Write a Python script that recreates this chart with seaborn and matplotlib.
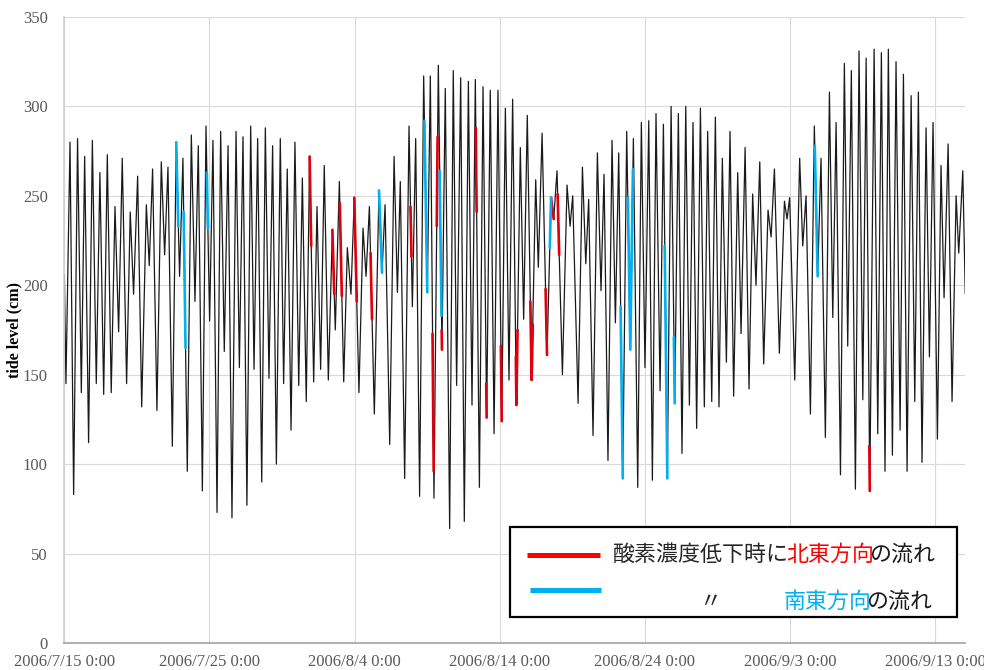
import pandas as pd
import matplotlib
matplotlib.use("Agg")
import matplotlib.pyplot as plt
import seaborn as sns
from matplotlib.patches import Rectangle

# tide level extrema (days after 2006/7/15 0:00, cm)
start = pd.Timestamp("2006-07-15")
tide_day = [
    0.00, 0.11, 0.39, 0.64, 0.91, 1.17, 1.40, 1.67, 1.93, 2.20, 2.45, 2.71, 2.96, 3.23, 3.49, 3.74, 3.99,
    4.29, 4.54, 4.77, 5.05, 5.33, 5.65, 5.85, 6.08,
    6.38, 6.68, 6.91, 7.14, 7.44, 7.71, 7.94, 8.17, 8.47, 8.75, 9.00, 9.23, 9.51, 9.76, 10.01, 10.24,
    10.52, 10.77, 11.02, 11.28, 11.55, 11.83, 12.06, 12.31,
    12.58, 12.84, 13.07, 13.32, 13.60, 13.85, 14.10, 14.35, 14.61, 14.88, 15.11, 15.36, 15.62, 15.89,
    16.15, 16.40, 16.67, 16.90, 17.18, 17.41, 17.66, 17.91, 18.19, 18.47,
    18.67, 18.95, 19.25, 19.50, 19.75, 19.98, 20.30, 20.58, 20.79, 21.02, 21.36, 21.68, 21.89, 22.10,
    22.42, 22.72, 22.95, 23.15, 23.45, 23.75, 23.98, 24.21, 24.48, 24.76,
    25.01, 25.22, 25.47, 25.77, 26.02, 26.25, 26.55, 26.80, 27.03, 27.31, 27.56, 27.84, 28.09, 28.32,
    28.60, 28.85, 29.10, 29.35, 29.61, 29.88, 30.14, 30.39, 30.64, 30.89,
    31.15, 31.42, 31.65, 31.90, 32.20, 32.48, 32.66, 32.92, 33.26, 33.54, 33.72, 33.95, 34.32, 34.64,
    34.85, 35.03, 35.40, 35.70, 35.93, 36.13, 36.43, 36.73, 36.98, 37.19,
    37.46, 37.74, 37.97, 38.20, 38.48, 38.75, 39.00, 39.21, 39.51, 39.76, 40.01, 40.27, 40.52, 40.77,
    41.05, 41.28, 41.55, 41.81, 42.06, 42.31, 42.56, 42.82, 43.07, 43.32,
    43.57, 43.83, 44.10, 44.33, 44.61, 44.86, 45.11, 45.34, 45.62, 45.87, 46.12, 46.40, 46.63, 46.91,
    47.18, 47.43, 47.66, 47.92, 48.19, 48.49, 48.70, 48.93, 49.27, 49.62,
    49.80, 49.98, 50.33, 50.67, 50.88, 51.11, 51.41, 51.68, 51.91, 52.14, 52.44, 52.72, 52.95, 53.18,
    53.48, 53.75, 53.98, 54.23, 54.51, 54.76, 55.02, 55.25, 55.50,
    55.80, 56.05, 56.30, 56.55, 56.78, 57.06, 57.31, 57.59, 57.82, 58.07, 58.35, 58.60, 58.85, 59.10,
    59.38, 59.61, 59.86, 60.16, 60.41, 60.62, 60.90, 61.17, 61.45, 61.63, 61.91, 62.08,
]
tide_cm = [
    206, 145, 280, 83, 282, 140, 272, 112, 281, 145, 263, 139, 273, 140, 244, 174, 271,
    145, 241, 195, 261, 132, 245, 211, 265,
    130, 269, 217, 266, 110, 280, 205, 271, 96, 284, 191, 278, 85, 289, 180, 281,
    73, 286, 163, 278, 70, 286, 154, 283,
    77, 289, 153, 282, 90, 288, 148, 278, 100, 282, 145, 265, 119, 280,
    144, 260, 135, 272, 146, 244, 153, 267, 147, 231,
    175, 258, 146, 221, 195, 249, 140, 232, 205, 244, 128, 253, 207, 245,
    111, 272, 196, 258, 92, 289, 188, 282, 82, 317,
    196, 317, 81, 323, 164, 310, 64, 320, 144, 316, 68, 314, 133, 315,
    87, 311, 126, 309, 117, 309, 124, 299, 147, 304,
    133, 277, 181, 295, 147, 259, 210, 285, 161, 249, 237, 264, 150, 256,
    233, 250, 134, 266, 212, 248, 116, 274, 197, 262,
    102, 281, 179, 274, 92, 286, 164, 282, 87, 291, 154, 292, 91, 296,
    141, 290, 92, 300, 134, 296, 106, 300, 133, 291,
    120, 299, 132, 286, 135, 294, 132, 271, 157, 286, 138, 263, 173, 277,
    142, 251, 200, 269, 156, 242, 227, 265, 162, 247,
    237, 249, 147, 271, 222, 250, 128, 289, 205, 271, 115, 308, 182, 291,
    94, 324, 166, 320, 86, 331, 136, 327, 85,
    332, 117, 330, 96, 332, 105, 325, 119, 318, 96, 306, 135, 308, 101,
    288, 160, 291, 114, 267, 193, 279, 135, 250, 218, 264, 195,
]

# periods of low oxygen with north-east flow (red) and south-east flow (blue)
ne_flow = [
    [(16.90, 272), (17.01, 222)], [(18.47, 231), (18.60, 195)], [(18.98, 246), (19.12, 194)],
    [(19.98, 249), (20.15, 191)], [(21.10, 218), (21.20, 181)], [(23.85, 244), (23.92, 216)],
    [(25.37, 173), (25.45, 96)], [(25.66, 233), (25.72, 283)], [(26.00, 175), (26.02, 164)],
    [(28.35, 288), (28.41, 241)], [(29.07, 145), (29.10, 126)], [(30.08, 166), (30.14, 124)],
    [(31.11, 160), (31.15, 133), (31.23, 175)], [(32.11, 191), (32.20, 147), (32.28, 178)],
    [(33.16, 198), (33.26, 161)], [(33.54, 249), (33.72, 237)], [(33.99, 251), (34.10, 217)],
    [(55.47, 110), (55.50, 85)],
]
se_flow = [
    [(7.71, 280), (7.85, 233)], [(8.22, 241), (8.35, 165)], [(9.82, 263), (9.89, 232)],
    [(21.68, 253), (21.89, 207)], [(24.81, 292), (25.01, 196)], [(25.86, 264), (25.99, 183)],
    [(33.45, 221), (33.54, 249)], [(38.33, 188), (38.48, 92)],
    [(38.83, 249), (39.00, 164), (39.18, 265)], [(41.37, 222), (41.55, 92)],
    [(42.00, 171), (42.06, 134)], [(51.71, 278), (51.91, 205)],
]
tick_days = [0, 10, 20, 30, 40, 50, 60]

sns.set_theme(style="white")
plt.rcParams["font.family"] = ["Liberation Serif", "DejaVu Serif"]
cjk = ["Noto Sans CJK JP", "DejaVu Sans"]
red, blue = "#FF0000", "#00B0F0"

df = pd.DataFrame({"time": start + pd.to_timedelta(tide_day, unit="D"), "cm": tide_cm})
rows = []
for name, segs in [("NE", ne_flow), ("SE", se_flow)]:
    for k, seg in enumerate(segs):
        for d, v in seg:
            rows.append({"time": start + pd.Timedelta(days=d), "cm": v, "flow": name, "seg": f"{name}{k}"})
seg_df = pd.DataFrame(rows)

fig = plt.figure(figsize=(9.84, 6.70), dpi=100)
ax = fig.add_axes([0.0654, 0.0403, 0.9157, 0.9344])

sns.lineplot(data=df, x="time", y="cm", color="#1a1a1a", lw=0.9, estimator=None, sort=False, ax=ax)
sns.lineplot(data=seg_df, x="time", y="cm", hue="flow", units="seg", estimator=None, sort=False,
             palette={"NE": "#E0000D", "SE": blue}, lw=1.9, legend=False, ax=ax)

ax.set_ylim(0, 350)
ax.set_yticks(range(0, 351, 50))
ax.set_xlim(start, start + pd.Timedelta(days=62.09))
ticks = [start + pd.Timedelta(days=d) for d in tick_days]
ax.set_xticks(ticks)
ax.set_xticklabels([f"{t.year}/{t.month}/{t.day} 0:00" for t in ticks])
ax.grid(True, color="#D9D9D9", lw=0.8)
ax.tick_params(length=0, labelsize=12, labelcolor="#595959")
ax.tick_params(axis="y", pad=12)
ax.tick_params(axis="x", pad=8)
for s in ["top", "right"]:
    ax.spines[s].set_visible(False)
ax.spines["left"].set_color("#D0D0D0")
ax.spines["bottom"].set_color("#A6A6A6")
ax.set_xlabel("")
ax.set_ylabel("tide level (cm)", fontweight="bold", fontsize=11.5, color="black")
ax.yaxis.set_label_coords(-0.047, 0.5)

# legend box
ax.add_patch(Rectangle((0.4946, 0.0415), 0.4961, 0.1438, transform=ax.transAxes,
                       facecolor="white", edgecolor="black", lw=1.6, zorder=5))
ax.plot([0.513, 0.594], [0.1406, 0.1406], transform=ax.transAxes, color=red, lw=3.6,
        solid_capstyle="butt", zorder=6)
ax.plot([0.517, 0.596], [0.0847, 0.0847], transform=ax.transAxes, color=blue, lw=3.6,
        solid_capstyle="butt", zorder=6)
fs = 15.8
t1 = ax.text(0.609, 0.1406, "酸素濃度低下時に", transform=ax.transAxes, va="center", ha="left",
             fontsize=fs, family=cjk, zorder=7)
t2 = ax.annotate("北東方向", xy=(1, 0), xycoords=t1, xytext=(-2, 0), textcoords="offset points",
                 va="bottom", ha="left", color=red, fontsize=fs, family=cjk, zorder=7)
ax.annotate("の流れ", xy=(1, 0), xycoords=t2, xytext=(-4, 0), textcoords="offset points",
            va="bottom", ha="left", color="#1a1a1a", fontsize=fs, family=cjk, zorder=7)
ax.text(0.706, 0.0655, "〃", transform=ax.transAxes, va="center", ha="left",
        fontsize=fs, family=cjk, zorder=7)
t3 = ax.text(0.798, 0.0655, "南東方向", transform=ax.transAxes, va="center", ha="left",
             color=blue, fontsize=fs, family=cjk, zorder=7)
ax.annotate("の流れ", xy=(1, 0), xycoords=t3, xytext=(-4, 0), textcoords="offset points",
            va="bottom", ha="left", color="#1a1a1a", fontsize=fs, family=cjk, zorder=7)

fig.savefig("out.png", dpi=100)
